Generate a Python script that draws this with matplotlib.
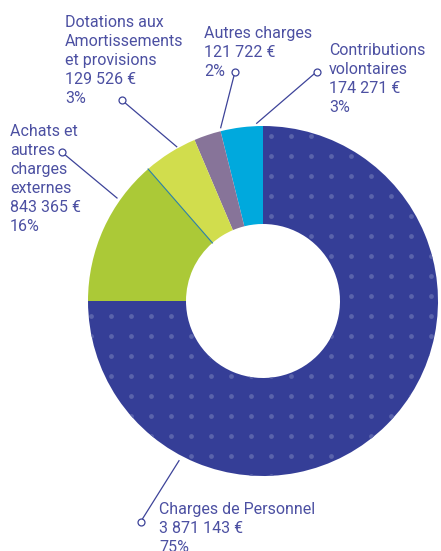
import numpy as np
import matplotlib
matplotlib.use("Agg")
import matplotlib.pyplot as plt

# --- données (ordre : sens anti-horaire depuis midi) ---
labels = ["Contributions\nvolontaires", "Autres charges",
          "Dotations aux\nAmortissements\net provisions",
          "Achats et\nautres\ncharges\nexternes", "Charges de Personnel"]
amounts = ["174 271 €", "121 722 €", "129 526 €", "843 365 €", "3 871 143 €"]
percents = ["3%", "2%", "3%", "16%", "75%"]
# parts des secteurs (en %)
parts = [3.9, 2.5, 5.0, 13.6, 75.0]
colors = ["#00a9dd", "#877499", "#d1dd4d", "#abc937", "#353e97"]

W, H = 441, 551
TXT = "#4c50a2"
LINE_H = 19  # pas entre lignes (px)

# positions des étiquettes (pixels, ligne de base de la 1re ligne)
text_pos = [(329, 55), (204, 38), (65, 27), (10, 136), (159, 514)]
# amorces : (point rond), (point sur le bord)
leaders = [((316.7, 71.7), (256.7, 123.3)),
           ((235, 71.7), (220.7, 127.7)),
           ((121.7, 100), (176.7, 146.7)),
           ((61.7, 152), (117, 198)),
           ((140.7, 521.7), (179, 460.7))]

plt.rcParams['font.family'] = ['Roboto', 'DejaVu Sans']

fig = plt.figure(figsize=(W / 100, H / 100), dpi=100)
ax = fig.add_axes([0, 0, 1, 1])

cx, cy = 263, H - 301
wedges, _ = ax.pie(parts, colors=colors, startangle=90, counterclock=True,
                   radius=175, center=(cx, cy),
                   wedgeprops=dict(width=98, edgecolor='none', linewidth=0))

# motif de points sur le secteur "Personnel"
gx, gy = np.meshgrid(np.arange(11, W, 20), np.arange(16, H, 20))
sc = ax.scatter(gx.ravel(), H - gy.ravel(), s=12, color="#5a63ab",
                linewidths=0, zorder=3)
sc.set_clip_path(wedges[4])

# fin trait entre Dotations et Achats
th = np.deg2rad(wedges[2].theta2)
ax.plot([cx + 77 * np.cos(th), cx + 175 * np.cos(th)],
        [cy + 77 * np.sin(th), cy + 175 * np.sin(th)],
        color="#2a7fa8", lw=0.8, zorder=4)

for i in range(len(labels)):
    x, y = text_pos[i]
    lines = (labels[i] + "\n" + amounts[i] + "\n" + percents[i]).split("\n")
    for k, ln in enumerate(lines):
        ax.text(x, H - (y + k * LINE_H), ln, ha='left', va='baseline',
                fontsize=11.5, color=TXT)
    (x0, y0), (x1, y1) = leaders[i]
    ax.plot([x0, x1], [H - y0, H - y1], color="#3d4399", lw=0.9, zorder=5)
    ax.plot(x0, H - y0, 'o', ms=5, mfc='white', mec="#3d4399", mew=0.9,
            zorder=6)

ax.set_xlim(0, W)
ax.set_ylim(0, H)
ax.set_aspect('auto')
ax.axis('off')

fig.savefig("out.png", dpi=100, facecolor='white')
